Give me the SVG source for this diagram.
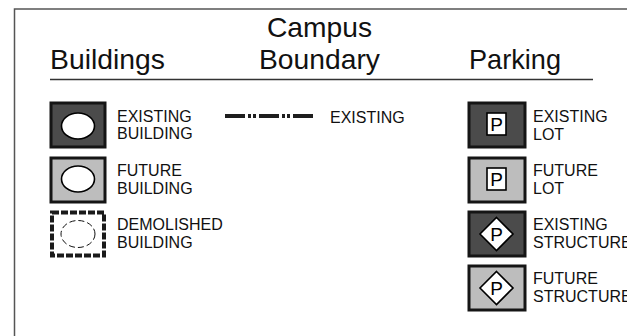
<svg xmlns="http://www.w3.org/2000/svg" width="627" height="336" viewBox="0 0 627 336">
<style>
.hdr{font-family:"Liberation Sans",Arial,sans-serif;font-size:27.5px;fill:#111}
.lbl{font-family:"Liberation Sans",Arial,sans-serif;font-size:16px;fill:#111}
.frame{fill:none;stroke:#555;stroke-width:1.5}
.rule{stroke:#333;stroke-width:1.3}
.dark{fill:#4b4b4b;stroke:#151515;stroke-width:3}
.light{fill:#bdbdbd;stroke:#151515;stroke-width:3}
.demo{fill:#fff;stroke:#1a1a1a;stroke-width:4;stroke-dasharray:7 2}
.bldg{fill:#fff;stroke:#000;stroke-width:1.6}
.bldg-d{fill:none;stroke:#111;stroke-width:1;stroke-dasharray:6 3}
.lot{fill:#fff;stroke:#000;stroke-width:1.6}
.pl{font-family:"Liberation Sans",Arial,sans-serif;font-size:19px;fill:#000;text-anchor:middle}
.bound{stroke:#1e1e1e;stroke-width:4;stroke-dasharray:20 3 3 2 3 3;fill:none}
</style>
<path class="frame" d="M14.5 336 V9 H627"/>
<g id="headers">
<text class="hdr" x="267" y="37" textLength="105" lengthAdjust="spacingAndGlyphs">Campus</text>
<text class="hdr" x="50" y="68.5" textLength="115" lengthAdjust="spacingAndGlyphs">Buildings</text>
<text class="hdr" x="259" y="68.5" textLength="121" lengthAdjust="spacingAndGlyphs">Boundary</text>
<text class="hdr" x="469" y="68.5" textLength="92" lengthAdjust="spacingAndGlyphs">Parking</text>
<line class="rule" x1="50" y1="79.5" x2="593" y2="79.5"/>
</g>
<g id="existing-building">
<rect class="dark" x="51" y="103" width="54" height="44"/>
<ellipse class="bldg" cx="78" cy="126" rx="16.5" ry="13"/>
<text class="lbl" x="117" y="121.5">EXISTING</text>
<text class="lbl" x="117" y="139">BUILDING</text>
</g>
<g id="future-building">
<rect class="light" x="51" y="158" width="54" height="44"/>
<ellipse class="bldg" cx="78" cy="179" rx="16.5" ry="13"/>
<text class="lbl" x="117" y="176">FUTURE</text>
<text class="lbl" x="117" y="193.5">BUILDING</text>
</g>
<g id="demolished-building">
<rect class="demo" x="52" y="212.5" width="52" height="43"/>
<ellipse class="bldg-d" cx="78" cy="234" rx="17" ry="13.5"/>
<text class="lbl" x="117" y="230">DEMOLISHED</text>
<text class="lbl" x="117" y="247.5">BUILDING</text>
</g>
<g id="existing-boundary">
<line class="bound" x1="225" y1="116" x2="314" y2="116"/>
<text class="lbl" x="330" y="122.5">EXISTING</text>
</g>
<g id="existing-lot">
<rect class="dark" x="469" y="103" width="56" height="44"/>
<rect class="lot" x="487" y="113" width="19" height="22"/>
<text class="pl" x="496.5" y="131">P</text>
<text class="lbl" x="533" y="121.5">EXISTING</text>
<text class="lbl" x="533" y="139.5">LOT</text>
</g>
<g id="future-lot">
<rect class="light" x="469" y="158" width="56" height="44"/>
<rect class="lot" x="487" y="168" width="19" height="22"/>
<text class="pl" x="496.5" y="186">P</text>
<text class="lbl" x="533" y="175.5">FUTURE</text>
<text class="lbl" x="533" y="193.5">LOT</text>
</g>
<g id="existing-structure">
<rect class="dark" x="469" y="212" width="56" height="44"/>
<polygon class="lot" points="496.5,217.5 513,234 496.5,250.5 480,234"/>
<text class="pl" x="496.5" y="241">P</text>
<text class="lbl" x="533" y="229.5">EXISTING</text>
<text class="lbl" x="533" y="247.5">STRUCTURE</text>
</g>
<g id="future-structure">
<rect class="light" x="469" y="266" width="56" height="44"/>
<polygon class="lot" points="496.5,271.5 513,288 496.5,304.5 480,288"/>
<text class="pl" x="496.5" y="295">P</text>
<text class="lbl" x="533" y="283.5">FUTURE</text>
<text class="lbl" x="533" y="301.5">STRUCTURE</text>
</g>
</svg>
